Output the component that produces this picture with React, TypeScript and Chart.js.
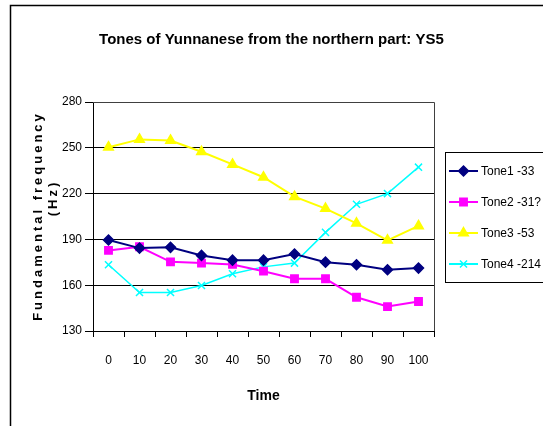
import React, { useEffect, useRef } from "react";
import { Chart, registerables, layouts } from "chart.js";
import { drawPoint } from "chart.js/helpers";

Chart.register(...registerables);

const chartTitle = "Tones of Yunnanese from the northern part: YS5";
const xTitle = "Time";
const yTitleLines = ["Fundamental frequency", "(Hz)"];
const categories = ["0", "10", "20", "30", "40", "50", "60", "70", "80", "90", "100"];
const seriesNames = ["Tone1 -33", "Tone2 -31?", "Tone3 -53", "Tone4 -214"];
const tone1 = [189.6, 184.3, 184.8, 179.5, 176.4, 176.4, 180.4, 175.1, 173.4, 170.1, 171.2];
const tone2 = [182.8, 185.2, 175.3, 174.5, 173.6, 169.2, 164.2, 164.2, 152.1, 146.0, 149.3];
const tone3 = [250.4, 255.5, 254.8, 247.4, 239.1, 230.7, 218.0, 210.2, 200.5, 189.4, 198.8];
const tone4 = [173.4, 155.2, 155.2, 159.8, 167.5, 172.0, 174.5, 194.6, 213.0, 220.0, 237.3];
const yMin = 130;
const yMax = 280;
const yStep = 30;

const FONT = "'Liberation Sans', Arial, sans-serif";

const colors = ["#000080", "#FF00FF", "#FFFF00", "#00FFFF"];
const styles = ["rectRot", "rect", "triangle", "crossRot"];
const radii = [5, 5.2, 5.5, 5];
const values = [tone1, tone2, tone3, tone4];

const framePlugin = {
  id: "frame",
  start(chart: any) {
    // reserve room on the right for the legend box, without shifting the full-width title
    const box: any = {
      position: "right",
      weight: 1000,
      fullSize: false,
      options: {},
      width: 109,
      height: 0,
      left: 0,
      top: 0,
      right: 0,
      bottom: 0,
      update(maxWidth: number, maxHeight: number) {
        this.width = 109;
        this.height = maxHeight;
      },
      isHorizontal() {
        return false;
      },
      getPadding() {
        return { top: 0, left: 0, right: 0, bottom: 0 };
      },
      draw() {},
    };
    layouts.addBox(chart, box);
  },
  beforeDraw(chart: any) {
    const ctx = chart.ctx;
    ctx.save();
    ctx.fillStyle = "#fff";
    ctx.fillRect(0, 0, chart.width, chart.height);
    ctx.strokeStyle = "#000";
    ctx.lineWidth = 1.5;
    ctx.beginPath();
    ctx.moveTo(10.5, chart.height);
    ctx.lineTo(10.5, 5.5);
    ctx.lineTo(chart.width, 5.5);
    ctx.stroke();
    ctx.restore();
  },
  afterDraw(chart: any) {
    const ctx = chart.ctx;
    const a = chart.chartArea;
    ctx.save();
    // plot area border (top/right)
    ctx.strokeStyle = "#404040";
    ctx.lineWidth = 1;
    ctx.beginPath();
    ctx.moveTo(a.left, a.top + 0.5);
    ctx.lineTo(a.right + 0.5, a.top + 0.5);
    ctx.lineTo(a.right + 0.5, a.bottom);
    ctx.stroke();

    // y axis title with letter spacing
    ctx.fillStyle = "#000";
    ctx.textAlign = "center";
    ctx.textBaseline = "middle";
    ctx.font = `bold 13px ${FONT}`;
    (ctx as any).letterSpacing = "3px";
    ctx.save();
    ctx.translate(38, 216);
    ctx.rotate(-Math.PI / 2);
    ctx.fillText(yTitleLines[0], 0, 0);
    ctx.restore();
    ctx.save();
    ctx.translate(53, 198);
    ctx.rotate(-Math.PI / 2);
    ctx.fillText(yTitleLines[1], 0, 0);
    ctx.restore();
    (ctx as any).letterSpacing = "0px";

    // legend
    const lx = 445.5;
    const ly = 152.5;
    ctx.strokeStyle = "#000";
    ctx.lineWidth = 1;
    ctx.strokeRect(lx, ly, 120, 130);
    chart.data.datasets.forEach((ds: any, i: number) => {
      const y = 171 + i * 31;
      ctx.strokeStyle = ds.borderColor;
      ctx.lineWidth = 2;
      ctx.beginPath();
      ctx.moveTo(449, y);
      ctx.lineTo(478, y);
      ctx.stroke();
      ctx.fillStyle = ds.backgroundColor;
      ctx.strokeStyle = ds.borderColor;
      ctx.lineWidth = 1.5;
      drawPoint(ctx, { pointStyle: ds.pointStyle, radius: ds.pointRadius, rotation: 0, borderWidth: 1.5 }, 463.5, y);
      ctx.fillStyle = "#000";
      ctx.textAlign = "left";
      ctx.textBaseline = "middle";
      ctx.font = `12px ${FONT}`;
      ctx.fillText(ds.label, 481, y + 1);
    });
    ctx.restore();
  },
};

export default function App() {
  const ref = useRef<HTMLCanvasElement>(null);
  useEffect(() => {
    if (!ref.current) return;
    const chart = new Chart(ref.current, {
      type: "line",
      data: {
        labels: categories,
        datasets: values.map((v, i) => ({
          label: seriesNames[i],
          data: v,
          borderColor: colors[i],
          backgroundColor: colors[i],
          borderWidth: i === 3 ? 1.5 : 2,
          pointStyle: styles[i] as any,
          pointRadius: radii[i],
          pointBorderWidth: 1.5,
          pointBackgroundColor: colors[i],
          pointBorderColor: colors[i],
          tension: 0,
        })),
      },
      options: {
        responsive: false,
        animation: false,
        devicePixelRatio: 1,
        layout: { padding: 0 },
        plugins: {
          legend: { display: false },
          tooltip: { enabled: false },
          title: {
            display: true,
            text: chartTitle,
            color: "#000",
            font: { family: FONT, size: 15, weight: "bold" },
            padding: { top: 31, bottom: 53 },
          },
        },
        scales: {
          x: {
            type: "category",
            offset: true,
            afterFit: (s: any) => {
              s.height = 95;
            },
            grid: {
              offset: true,
              drawOnChartArea: false,
              drawTicks: true,
              tickLength: 6,
              color: "#000",
            },
            border: { display: true, color: "#000", width: 1 },
            ticks: {
              color: "#000",
              padding: 16,
              maxRotation: 0,
              autoSkip: false,
              font: { family: FONT, size: 12 },
            },
            title: {
              display: true,
              text: xTitle,
              color: "#000",
              font: { family: FONT, size: 14, weight: "bold" },
              padding: { top: 4, bottom: 21 },
            },
          },
          y: {
            min: yMin,
            max: yMax,
            afterFit: (s: any) => {
              s.width = 93;
            },
            grid: {
              color: "#000",
              drawTicks: true,
              tickLength: 8,
            },
            border: { display: true, color: "#000", width: 1 },
            ticks: {
              stepSize: yStep,
              color: "#000",
              padding: 3,
              font: { family: FONT, size: 12 },
            },
          },
        },
      },
      plugins: [framePlugin],
    });
    return () => chart.destroy();
  }, []);
  return (
    <div style={{ position: "absolute", left: 0, top: 0, width: 543, height: 426 }}>
      <canvas ref={ref} width={543} height={426} style={{ display: "block" }} />
    </div>
  );
}
